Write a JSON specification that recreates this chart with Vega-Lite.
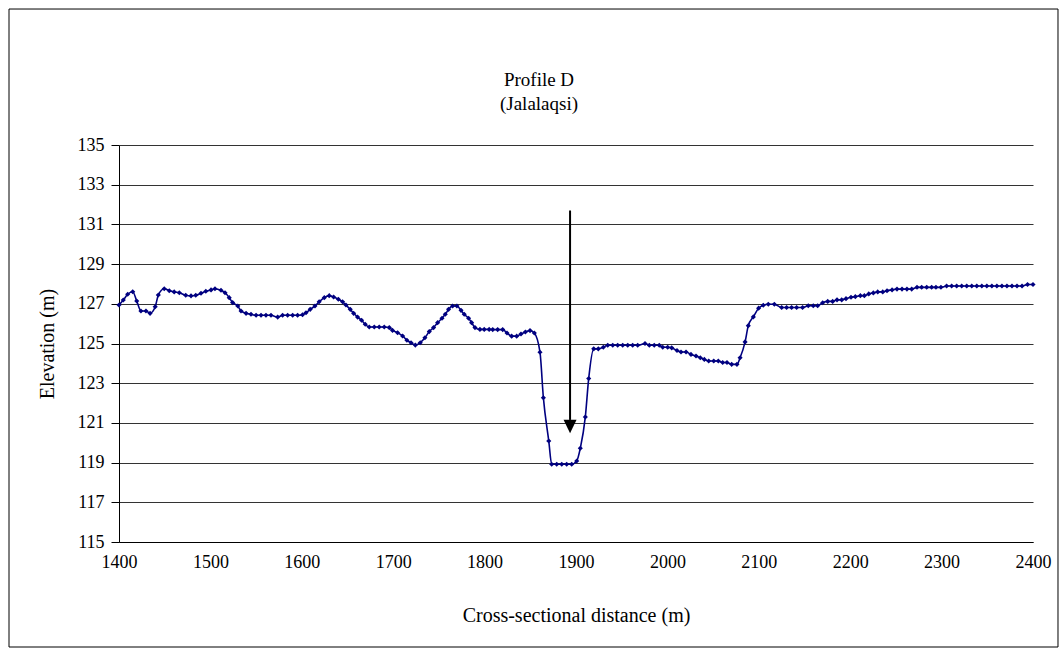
{
  "$schema": "https://vega.github.io/schema/vega-lite/v6.json",
  "width": 914,
  "height": 397,
  "padding": {"left": 8, "top": 8, "right": 5, "bottom": 3},
  "background": "white",
  "config": {
    "view": {"stroke": null},
    "font": "Liberation Serif",
    "axis": {
      "labelFont": "Liberation Serif",
      "titleFont": "Liberation Serif",
      "labelColor": "#000",
      "titleColor": "#000",
      "titleFontWeight": "normal",
      "domainColor": "#000",
      "tickColor": "#000",
      "gridColor": "#333",
      "gridOpacity": 1,
      "gridWidth": 1,
      "labelOverlap": false,
      "labelFlush": false
    }
  },
  "title": {
    "text": ["Profile D", "(Jalalaqsi)"],
    "font": "Liberation Serif",
    "fontSize": 19,
    "fontWeight": "normal",
    "lineHeight": 24,
    "color": "#000",
    "anchor": "middle",
    "frame": "group",
    "dx": -37,
    "offset": -105
  },
  "datasets": {
    "profile": [
      {"d": 1400, "e": 126.94}, {"d": 1404.7, "e": 127.19}, {"d": 1409.5, "e": 127.48}, {"d": 1415, "e": 127.61},
      {"d": 1419.4, "e": 127.14}, {"d": 1424, "e": 126.64}, {"d": 1429.5, "e": 126.64}, {"d": 1434, "e": 126.52},
      {"d": 1439.6, "e": 126.85}, {"d": 1443, "e": 127.44}, {"d": 1449.5, "e": 127.76}, {"d": 1455, "e": 127.66},
      {"d": 1460.4, "e": 127.6}, {"d": 1466, "e": 127.56}, {"d": 1473, "e": 127.43}, {"d": 1478.8, "e": 127.4},
      {"d": 1484, "e": 127.43}, {"d": 1489.7, "e": 127.53}, {"d": 1495, "e": 127.63}, {"d": 1500.7, "e": 127.7},
      {"d": 1505, "e": 127.76}, {"d": 1511.6, "e": 127.68}, {"d": 1516, "e": 127.56}, {"d": 1520.6, "e": 127.31},
      {"d": 1524.3, "e": 127.06}, {"d": 1530, "e": 126.89}, {"d": 1533.5, "e": 126.64}, {"d": 1539, "e": 126.52},
      {"d": 1544.4, "e": 126.47}, {"d": 1550, "e": 126.42}, {"d": 1555.4, "e": 126.42}, {"d": 1560.8, "e": 126.42},
      {"d": 1566.3, "e": 126.42}, {"d": 1573.6, "e": 126.33}, {"d": 1579, "e": 126.42}, {"d": 1584.5, "e": 126.42},
      {"d": 1590, "e": 126.42}, {"d": 1595.4, "e": 126.42}, {"d": 1600.8, "e": 126.45}, {"d": 1604.6, "e": 126.55},
      {"d": 1609.2, "e": 126.72}, {"d": 1614.4, "e": 126.89}, {"d": 1619, "e": 127.1}, {"d": 1624.6, "e": 127.31},
      {"d": 1630, "e": 127.41}, {"d": 1634.8, "e": 127.34}, {"d": 1640, "e": 127.23}, {"d": 1644.6, "e": 127.1},
      {"d": 1648.3, "e": 126.94}, {"d": 1653, "e": 126.72}, {"d": 1656.7, "e": 126.52}, {"d": 1661, "e": 126.33},
      {"d": 1665.4, "e": 126.17}, {"d": 1669.4, "e": 125.97}, {"d": 1673.8, "e": 125.83}, {"d": 1679.3, "e": 125.83},
      {"d": 1684.7, "e": 125.83}, {"d": 1690.2, "e": 125.83}, {"d": 1695.7, "e": 125.8}, {"d": 1699.3, "e": 125.66},
      {"d": 1704.8, "e": 125.54}, {"d": 1710.3, "e": 125.38}, {"d": 1715, "e": 125.16}, {"d": 1719.5, "e": 125.04},
      {"d": 1724.2, "e": 124.92}, {"d": 1729.6, "e": 125.04}, {"d": 1734.7, "e": 125.29}, {"d": 1739.5, "e": 125.6},
      {"d": 1744.2, "e": 125.8}, {"d": 1748.6, "e": 126.05}, {"d": 1753.4, "e": 126.27}, {"d": 1757, "e": 126.47},
      {"d": 1760.6, "e": 126.72}, {"d": 1765, "e": 126.89}, {"d": 1769.7, "e": 126.89}, {"d": 1774.2, "e": 126.67},
      {"d": 1777.7, "e": 126.47}, {"d": 1782.5, "e": 126.27}, {"d": 1785.8, "e": 126.05}, {"d": 1789.5, "e": 125.8},
      {"d": 1794.9, "e": 125.71}, {"d": 1799.6, "e": 125.71}, {"d": 1805, "e": 125.71}, {"d": 1808.9, "e": 125.7},
      {"d": 1814.3, "e": 125.7}, {"d": 1819.8, "e": 125.7}, {"d": 1824.5, "e": 125.53}, {"d": 1829.6, "e": 125.37},
      {"d": 1835.1, "e": 125.37}, {"d": 1839.8, "e": 125.48}, {"d": 1844.6, "e": 125.58}, {"d": 1849.7, "e": 125.65},
      {"d": 1854.4, "e": 125.53}, {"d": 1860.6, "e": 124.56}, {"d": 1864.3, "e": 122.27}, {"d": 1870.2, "e": 120.09},
      {"d": 1873.4, "e": 118.92}, {"d": 1878.9, "e": 118.92}, {"d": 1884.4, "e": 118.92}, {"d": 1889.8, "e": 118.92},
      {"d": 1895.3, "e": 118.92}, {"d": 1900.8, "e": 119.08}, {"d": 1904.7, "e": 119.72}, {"d": 1910.2, "e": 121.3},
      {"d": 1913.9, "e": 123.24}, {"d": 1919.4, "e": 124.73}, {"d": 1924.4, "e": 124.73}, {"d": 1929.9, "e": 124.81},
      {"d": 1934.7, "e": 124.91}, {"d": 1940.2, "e": 124.91}, {"d": 1945.6, "e": 124.91}, {"d": 1951.1, "e": 124.91},
      {"d": 1956.6, "e": 124.91}, {"d": 1962, "e": 124.91}, {"d": 1967.5, "e": 124.91}, {"d": 1975.5, "e": 125.0},
      {"d": 1980.2, "e": 124.91}, {"d": 1985.6, "e": 124.91}, {"d": 1991.1, "e": 124.91}, {"d": 1994.9, "e": 124.81},
      {"d": 2000.3, "e": 124.81}, {"d": 2004.7, "e": 124.78}, {"d": 2010.5, "e": 124.65}, {"d": 2014.9, "e": 124.57},
      {"d": 2020.4, "e": 124.57}, {"d": 2025.8, "e": 124.45}, {"d": 2031.3, "e": 124.37}, {"d": 2036, "e": 124.28},
      {"d": 2040.4, "e": 124.2}, {"d": 2045.2, "e": 124.12}, {"d": 2050.7, "e": 124.12}, {"d": 2055.7, "e": 124.12},
      {"d": 2060.5, "e": 124.04}, {"d": 2065.2, "e": 124.04}, {"d": 2070.3, "e": 123.95}, {"d": 2076.1, "e": 123.95},
      {"d": 2079.5, "e": 124.28}, {"d": 2085, "e": 125.08}, {"d": 2088.5, "e": 125.9}, {"d": 2094, "e": 126.34},
      {"d": 2099.8, "e": 126.78}, {"d": 2104.9, "e": 126.93}, {"d": 2110.4, "e": 126.98}, {"d": 2117, "e": 126.98},
      {"d": 2125, "e": 126.81}, {"d": 2130.4, "e": 126.81}, {"d": 2135.9, "e": 126.81}, {"d": 2141.4, "e": 126.81},
      {"d": 2147.9, "e": 126.81}, {"d": 2154.1, "e": 126.9}, {"d": 2159.6, "e": 126.9}, {"d": 2164.4, "e": 126.9},
      {"d": 2169.9, "e": 127.05}, {"d": 2175.4, "e": 127.12}, {"d": 2180.8, "e": 127.12}, {"d": 2185.6, "e": 127.2},
      {"d": 2190.7, "e": 127.2}, {"d": 2195.4, "e": 127.26}, {"d": 2200.9, "e": 127.33}, {"d": 2205.6, "e": 127.36},
      {"d": 2211.1, "e": 127.41}, {"d": 2215.5, "e": 127.41}, {"d": 2220.3, "e": 127.5}, {"d": 2225.3, "e": 127.55},
      {"d": 2230.1, "e": 127.6}, {"d": 2235.6, "e": 127.6}, {"d": 2240.3, "e": 127.66}, {"d": 2245.8, "e": 127.7},
      {"d": 2251.2, "e": 127.74}, {"d": 2256.7, "e": 127.74}, {"d": 2262.1, "e": 127.74}, {"d": 2267.3, "e": 127.74},
      {"d": 2273.1, "e": 127.83}, {"d": 2278.2, "e": 127.83}, {"d": 2283.7, "e": 127.83}, {"d": 2289.1, "e": 127.83},
      {"d": 2293.8, "e": 127.83}, {"d": 2299.3, "e": 127.83}, {"d": 2305.5, "e": 127.9}, {"d": 2311, "e": 127.9},
      {"d": 2316.5, "e": 127.9}, {"d": 2322, "e": 127.9}, {"d": 2327.5, "e": 127.9}, {"d": 2333, "e": 127.9},
      {"d": 2338.5, "e": 127.9}, {"d": 2344, "e": 127.9}, {"d": 2349.5, "e": 127.9}, {"d": 2355, "e": 127.9},
      {"d": 2360.5, "e": 127.9}, {"d": 2366, "e": 127.9}, {"d": 2371.5, "e": 127.9}, {"d": 2377, "e": 127.9},
      {"d": 2382.5, "e": 127.9}, {"d": 2388, "e": 127.9}, {"d": 2394, "e": 127.97}, {"d": 2400, "e": 127.97}
    ],
    "arrow": [{"d": 1893.5, "top": 131.7, "base": 121.15, "head": 120.82}],
    "frame": [{"x0": 1279.65, "x1": 2427.35, "y0": 109.71, "y1": 141.85}]
  },
  "layer": [
    {
      "data": {"name": "profile"},
      "mark": {"type": "line", "color": "#000080", "strokeWidth": 1.6, "interpolate": "monotone"},
      "encoding": {
        "x": {
          "field": "d", "type": "quantitative",
          "scale": {"domain": [1400, 2400], "nice": false, "zero": false},
          "axis": {
            "title": "Cross-sectional distance (m)",
            "values": [1400, 1500, 1600, 1700, 1800, 1900, 2000, 2100, 2200, 2300, 2400],
            "tickCount": 30,
            "format": "d",
            "grid": false, "ticks": false,
            "labelFontSize": 18, "labelPadding": 11,
            "titleFontSize": 20, "titlePadding": 34
          }
        },
        "y": {
          "field": "e", "type": "quantitative",
          "scale": {"domain": [115, 135], "nice": false, "zero": false},
          "axis": {
            "title": "Elevation (m)",
            "values": [115, 117, 119, 121, 123, 125, 127, 129, 131, 133, 135],
            "tickCount": 30,
            "format": "d",
            "grid": true, "tickSize": 8,
            "labelFontSize": 18, "labelPadding": 7,
            "titleFontSize": 20, "titlePadding": 20
          }
        }
      }
    },
    {
      "data": {"name": "profile"},
      "mark": {"type": "point", "shape": "diamond", "filled": true, "color": "#000080", "size": 26, "opacity": 1},
      "encoding": {
        "x": {"field": "d", "type": "quantitative"},
        "y": {"field": "e", "type": "quantitative"}
      }
    },
    {
      "data": {"name": "arrow"},
      "mark": {"type": "rule", "color": "#000", "strokeWidth": 2},
      "encoding": {
        "x": {"field": "d", "type": "quantitative"},
        "y": {"field": "top", "type": "quantitative"},
        "y2": {"field": "base"}
      }
    },
    {
      "data": {"name": "arrow"},
      "mark": {"type": "point", "shape": "M-1,-1.05L1,-1.05L0,1.05Z", "filled": true, "color": "#000", "size": 169, "opacity": 1},
      "encoding": {
        "x": {"field": "d", "type": "quantitative"},
        "y": {"field": "head", "type": "quantitative"}
      }
    },
    {
      "data": {"name": "frame"},
      "mark": {"type": "rect", "fill": null, "stroke": "#000", "strokeWidth": 1},
      "encoding": {
        "x": {"field": "x0", "type": "quantitative"},
        "x2": {"field": "x1"},
        "y": {"field": "y0", "type": "quantitative"},
        "y2": {"field": "y1"}
      }
    }
  ]
}
